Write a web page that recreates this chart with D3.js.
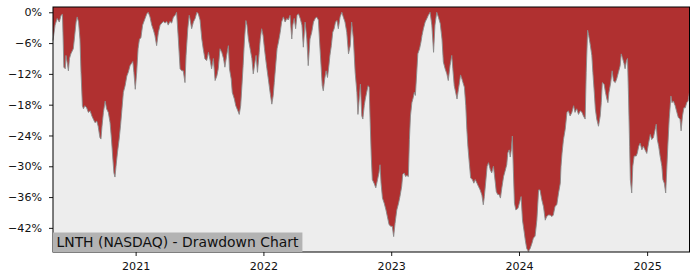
<!DOCTYPE html>
<html>
<head>
<meta charset="utf-8">
<script src="https://cdn.jsdelivr.net/npm/d3@7"></script>
<style>
  body { margin: 0; background: #fff; }
  svg { display: block; font-family: 'DejaVu Sans', sans-serif; }
</style>
</head>
<body>
<div id="chart"></div>
<script>
const title = 'LNTH (NASDAQ) - Drawdown Chart';
const startDate = new Date(2020, 4, 10);

// days since startDate
const days = [
  0, 6, 12, 18, 23, 27, 29, 31, 35, 37, 41, 44, 47, 51, 58, 61, 66, 69, 73, 77,
  80, 84, 87, 91, 96, 101, 106, 111, 115, 120, 125, 129, 134, 137, 140, 144, 149, 153, 158, 163,
  167, 171, 174, 177, 180, 184, 189, 193, 197, 201, 206, 211, 215, 220, 224, 228, 231, 235, 239, 243,
  247, 251, 256, 263, 268, 272, 277, 282, 287, 291, 296, 301, 306, 311, 315, 320, 325, 329, 334, 339,
  344, 349, 353, 358, 363, 368, 372, 377, 380, 385, 389, 391, 396, 401, 406, 411, 415, 420, 425, 429,
  434, 439, 444, 449, 453, 458, 463, 468, 472, 477, 482, 487, 491, 496, 501, 504, 509, 512, 518, 522,
  528, 532, 536, 539, 543, 547, 551, 554, 558, 563, 568, 572, 577, 580, 584, 589, 592, 596, 600, 604,
  608, 611, 615, 620, 625, 629, 632, 636, 640, 644, 649, 653, 658, 663, 668, 672, 677, 682, 685, 689,
  693, 697, 701, 706, 711, 715, 720, 725, 729, 734, 739, 744, 749, 753, 758, 761, 765, 769, 772, 776,
  780, 784, 788, 791, 795, 799, 803, 807, 811, 815, 820, 825, 829, 834, 839, 844, 849, 853, 858, 863,
  868, 871, 875, 878, 882, 885, 889, 892, 896, 900, 903, 906, 909, 912, 917, 922, 927, 931, 934, 937,
  941, 946, 951, 955, 960, 965, 969, 973, 977, 982, 987, 991, 996, 999, 1003, 1007, 1011, 1015, 1018, 1021,
  1025, 1029, 1032, 1035, 1039, 1042, 1047, 1051, 1054, 1058, 1063, 1068, 1072, 1077, 1082, 1087, 1091, 1096, 1101, 1106,
  1111, 1115, 1120, 1125, 1129, 1134, 1139, 1142, 1146, 1151, 1154, 1158, 1161, 1164, 1168, 1171, 1175, 1179, 1182, 1185,
  1189, 1193, 1198, 1202, 1206, 1211, 1215, 1220, 1225, 1229, 1232, 1236, 1240, 1244, 1249, 1253, 1258, 1263, 1266, 1270,
  1274, 1278, 1282, 1287, 1291, 1296, 1299, 1303, 1306, 1309, 1312, 1315, 1318, 1322, 1328, 1332, 1337, 1341, 1345, 1349,
  1353, 1358, 1363, 1368, 1372, 1377, 1382, 1387, 1391, 1396, 1401, 1406, 1410, 1415, 1420, 1425, 1429, 1434, 1439, 1444,
  1449, 1451, 1454, 1458, 1463, 1468, 1472, 1477, 1482, 1487, 1491, 1496, 1501, 1506, 1511, 1515, 1520, 1523, 1527, 1530,
  1534, 1539, 1542, 1546, 1549, 1553, 1558, 1563, 1566, 1569, 1574, 1578, 1582, 1585, 1588, 1593, 1597, 1601, 1606, 1610,
  1615, 1620, 1623, 1627, 1631, 1634, 1638, 1641, 1644, 1647, 1649, 1653, 1656, 1660, 1666, 1669, 1673, 1677, 1682, 1686,
  1691, 1696, 1701, 1706, 1710, 1715, 1720, 1723, 1726, 1730, 1734, 1739, 1742, 1746, 1750, 1753, 1756, 1760, 1765, 1768,
  1772, 1777, 1782, 1786, 1791, 1794, 1798, 1802, 1806, 1810, 1814, 1818
];

// drawdown in percent
const drawdown = [
  -5.5, -2.5, -1.2, -1.9, -0.6, -0.4, -5.2, -10.7, -11, -8.4, -10, -11.4, -9, -8.1, -7.1, -5.2, -1.9, -0.9, -1.9, -5.2,
  -11.7, -18.2, -18.8, -18.2, -18.6, -19.5, -19.2, -20.2, -20.8, -21.5, -21.2, -22.2, -24.4, -24.7, -22.2, -19.5, -17.3, -18.8, -19.5, -21.5,
  -24.7, -28.6, -31.3, -32.1, -30, -27.4, -24.7, -22, -18.8, -15.6, -14.3, -12.4, -11.7, -10.4, -10, -9.6, -11.7, -15, -11.7, -7.1,
  -5.2, -5, -2.5, -1.2, -0.3, 0, -0.9, -2.5, -3.5, -4.5, -6.5, -3.9, -2.5, -2.1, -1.8, -2.1, -1.8, -2.5, -1.8, -2.1,
  -0.9, -0.6, 0, -5.2, -11, -11.4, -11.4, -13.7, -8.4, -3.2, -0.6, -1.2, -3.2, -1.9, -1.2, 0, -0.3, -1.5, -5.2, -7.1,
  -9.1, -9.4, -7.8, -9.4, -11, -9, -13.3, -12.4, -11, -7.1, -7.8, -9, -10.7, -8.4, -6.5, -11, -13, -15.6, -16.9, -18.2,
  -19.2, -19.9, -18.2, -15, -10.4, -5.2, -1.6, -2.5, -5.2, -7.1, -9, -12, -9.7, -8.4, -11.7, -7.8, -5.2, -3.2, -4.5, -7.1,
  -9.4, -11, -13, -15.6, -17.9, -16.2, -13.7, -10.4, -7.1, -5.8, -3.9, -1.9, -0.9, -1.9, -1.2, -1.5, -0.6, -5.2, -2.5, -1.2,
  -3.2, -0.6, -0.3, -1.2, -2.5, -6.8, -1.9, -5.2, -10.4, -5.2, -3.9, -1.9, -1.2, -0.9, -1.5, -5.2, -9.7, -14.3, -15.3, -13,
  -11.4, -12.7, -10.4, -8.4, -6.5, -3.9, -3.2, -1.9, -1.6, -3.2, -0.9, 0, -0.9, -1.9, -3.9, -8.1, -6.5, -1.9, -5.2, -11.7,
  -15.6, -19.9, -16.5, -14, -20.2, -20.8, -18.2, -16.9, -15.6, -14.3, -14.6, -21.5, -28, -32.6, -33.3, -34.2, -32.6, -31.3, -29.7, -33.3,
  -36.2, -37.2, -38.5, -39.8, -41.4, -41.7, -41.7, -43.7, -41.1, -38.5, -37.2, -35.9, -33.9, -31.6, -31.3, -32, -31.8, -32, -24.8, -20.2,
  -17.6, -16.6, -15.6, -16.2, -11.7, -8.1, -7.1, -5.8, -4.5, -3.2, -1.9, -1.2, -0.6, 0, -2.5, -7.8, -2.5, 0, -1, -2.2,
  -5.2, -9.7, -11, -12, -13.3, -10.4, -8.4, -11, -14.3, -15.9, -16.9, -15, -13.7, -12.2, -13, -13.7, -14.6, -18.2, -22.8, -26.1,
  -29.3, -32.3, -32.6, -33.3, -32.6, -33.3, -33.9, -34.6, -35.6, -37.5, -35.9, -33, -30, -29.3, -30.7, -31.3, -30, -33, -34.9, -35.5,
  -35.5, -36.2, -34.2, -32, -31, -29.7, -27.4, -26.8, -28.2, -26.8, -24.1, -31, -37.2, -38.5, -38.2, -37.2, -35.9, -40.5, -42.4, -44.4,
  -46, -46.6, -46, -45, -44, -43.6, -40.5, -34.6, -34.6, -36.5, -37.9, -40.5, -39.8, -39.5, -39.5, -39.8, -39.5, -37.8, -37.5, -35.2,
  -33.3, -30, -27.4, -24.8, -22.8, -19.5, -19.2, -20.2, -19.5, -18.2, -19.5, -18.8, -19.9, -19.2, -19.5, -20.2, -20.8, -11.7, -3.5, -4.5,
  -6.1, -8.4, -11.7, -15.6, -18.8, -20.8, -22.2, -20.2, -17.6, -13.7, -14, -15.6, -16.9, -17.6, -15.6, -13.7, -11.4, -13.4, -13.7, -13,
  -11.7, -10.4, -8.1, -9, -10, -11, -9.4, -9, -16.9, -26.1, -32.6, -35.2, -30, -28, -28, -27.4, -26.1, -25.5, -26.8, -26.1,
  -26.8, -27.5, -25.5, -23.8, -24.8, -24.4, -22.8, -21.8, -24.8, -26.1, -28, -30, -32.6, -33.3, -35.2, -30.7, -26.1, -20.8, -16.3, -17.6,
  -17.3, -18.2, -19.5, -20.5, -20.8, -23.1, -20.2, -18.6, -18.6, -17.6, -17.3, -15.6
];

const yTicks = [0, -6, -12, -18, -24, -30, -36, -42];
const yLimits = [-46.7, 1.03];

const width = 700, height = 280;
const margin = {top: 7, right: 10.5, bottom: 28, left: 53};

const data = days.map((d, i) => ({
  date: d3.timeDay.offset(startDate, d),
  value: drawdown[i]
}));

const svg = d3.select('#chart')
  .append('svg')
    .attr('width', width)
    .attr('height', height);

const x = d3.scaleTime()
  .domain(d3.extent(data, d => d.date))
  .range([margin.left, width - margin.right]);

const y = d3.scaleLinear()
  .domain(yLimits)
  .range([height - margin.bottom, margin.top]);

// plot background
svg.append('rect')
  .attr('x', margin.left)
  .attr('y', margin.top)
  .attr('width', width - margin.left - margin.right)
  .attr('height', height - margin.top - margin.bottom)
  .attr('fill', '#ededed');

// red fill above the curve
svg.append('path')
  .datum(data)
  .attr('fill', '#b03030')
  .attr('d', d3.area()
    .x(d => x(d.date))
    .y0(y(yLimits[1]))
    .y1(d => y(d.value))
  );

svg.append('path')
  .datum(data)
  .attr('fill', 'none')
  .attr('stroke', '#8a8a8a')
  .attr('stroke-width', 0.9)
  .attr('d', d3.line()
    .x(d => x(d.date))
    .y(d => y(d.value))
  );

// axes
const xAxis = svg.append('g')
  .attr('transform', `translate(0,${height - margin.bottom})`)
  .call(d3.axisBottom(x)
    .ticks(d3.timeYear.every(1))
    .tickFormat(d3.timeFormat('%Y'))
    .tickSize(4)
    .tickPadding(6));

const yAxis = svg.append('g')
  .attr('transform', `translate(${margin.left},0)`)
  .call(d3.axisLeft(y)
    .tickValues(yTicks)
    .tickFormat(d => d3.format('d')(d) + '%')
    .tickSize(4)
    .tickPadding(7));

[xAxis, yAxis].forEach(g => {
  g.select('.domain').remove();
  g.selectAll('.tick line').attr('stroke', '#000').attr('stroke-width', 0.9);
  g.selectAll('.tick text')
    .attr('fill', '#111')
    .style('font-family', "'DejaVu Sans', sans-serif")
    .style('font-size', '11.1px');
});

// frame
svg.append('rect')
  .attr('x', margin.left)
  .attr('y', margin.top)
  .attr('width', width - margin.left - margin.right)
  .attr('height', height - margin.top - margin.bottom)
  .attr('fill', 'none')
  .attr('stroke', '#000')
  .attr('stroke-width', 1);

// label box in the lower left corner
const label = svg.append('g');
const labelText = label.append('text')
  .attr('x', margin.left + 3.5)
  .attr('y', height - margin.bottom - 5)
  .attr('fill', '#111')
  .style('font-size', '13.9px')
  .text(title);

const bb = labelText.node().getBBox();
label.insert('rect', 'text')
  .attr('x', margin.left)
  .attr('y', bb.y - 1.5)
  .attr('width', bb.width + 7)
  .attr('height', height - margin.bottom - (bb.y - 1.5))
  .attr('fill', '#b3b3b3');
</script>
</body>
</html>
